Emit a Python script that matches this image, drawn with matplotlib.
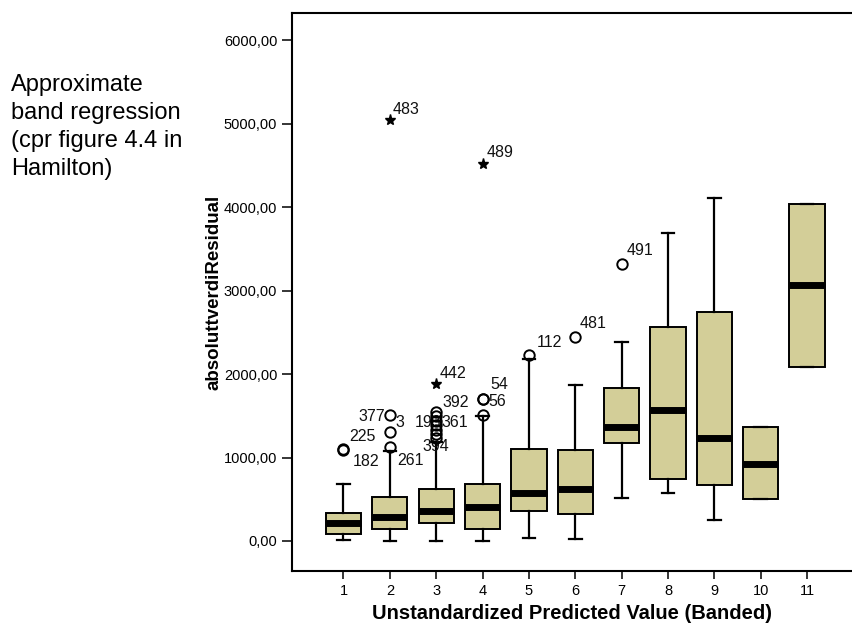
import matplotlib
matplotlib.use("Agg")
from matplotlib import pyplot

pyplot.rcParams['font.family'] = ['Liberation Sans', 'DejaVu Sans']

# box statistics per predicted-value band
bands = [1, 2, 3, 4, 5, 6, 7, 8, 9, 10, 11]
q1 = [80, 148, 212, 140, 364, 320, 1172, 744, 668, 500, 2080]
med = [220, 284, 364, 408, 580, 628, 1364, 1572, 1228, 928, 3064]
q3 = [340, 524, 628, 684, 1100, 1092, 1828, 2564, 2740, 1360, 4044]
whislo = [16, 0, 0, 0, 40, 28, 520, 572, 252, 500, 2080]
whishi = [688, 1080, 1184, 1492, 2180, 1872, 2384, 3692, 4116, 1360, 4044]

# outliers (circles) and extremes (stars)
out_band = [1, 1, 2, 2, 2, 3, 3, 3, 3, 3, 3, 3, 4, 4, 4, 5, 6, 7]
out_val = [1104, 1090, 1128, 1300, 1508, 1232, 1284, 1328, 1384, 1440, 1492, 1544,
           1512, 1700, 1704, 2232, 2448, 3320]
ext_band = [2, 3, 4]
ext_val = [5044, 1884, 4520]

# case labels: band, value of the marker, text, offset right/down in pixels
lab_band = [1, 1, 2, 2, 2, 3, 3, 3, 3, 3, 4, 4, 4, 2, 5, 6, 7]
lab_val = [1104, 1090, 1508, 1300, 1128, 1440, 1440, 1232, 1544, 1884, 1704, 1704,
           4520, 5044, 2232, 2448, 3320]
lab_txt = ['225', '182', '377', '3', '261', '193', '361', '394', '392', '442', '54', '56',
           '489', '483', '112', '481', '491']
lab_dx = [6, 9, -5, 6, 7, -21, 5, -14, 6, 3, 8, 6, 4, 3, 8, 4, 5]
lab_dy = [-12, 12, 1, -10, 14, 2, 2, 8, -10, -10, -14, 3, -11, -11, -12, -13, -13]

yticks = [0, 1000, 2000, 3000, 4000, 5000, 6000]

fig = pyplot.figure(figsize=(8.52, 6.24), dpi=100)
ax = fig.add_axes([0.3427, 0.085, 0.6573, 0.894])

stats = []
for i in range(len(bands)):
    stats.append(dict(med=med[i], q1=q1[i], q3=q3[i], whislo=whislo[i], whishi=whishi[i], fliers=[]))

ax.bxp(stats, positions=bands, widths=0.76, capwidths=0.27, patch_artist=True,
       showfliers=False,
       boxprops=dict(facecolor='#d3ce98', edgecolor='black', linewidth=1.4),
       medianprops=dict(color='black', linewidth=5, solid_capstyle='butt'),
       whiskerprops=dict(color='black', linewidth=1.6),
       capprops=dict(color='black', linewidth=1.6))

ax.plot(out_band, out_val, 'o', markerfacecolor='none', markeredgecolor='black',
        markersize=7.5, markeredgewidth=1.4, zorder=4)
ax.plot(ext_band, ext_val, '*', color='black', markersize=8, zorder=4)

for b, v, t, dx, dy in zip(lab_band, lab_val, lab_txt, lab_dx, lab_dy):
    ha = 'right' if t == '377' else 'left'
    ax.annotate(t, xy=(b, v), xytext=(dx * 0.72, -dy * 0.72), textcoords='offset points',
                ha=ha, va='center', fontsize=11.5, color='#111111')

ax.set_xlim(-0.111, 11.97)
ax.set_ylim(-360, 6327)
ax.set_xticks(bands)
ax.set_xticklabels([str(b) for b in bands])
ax.set_yticks(yticks)
ax.set_yticklabels(['%d,00' % v for v in yticks])
ax.tick_params(axis='y', direction='out', length=7, width=1.1, pad=3.6, labelsize=10.5)
ax.tick_params(axis='x', direction='out', length=6, width=1.1, pad=3.5, labelsize=10.5)

ax.spines['right'].set_visible(False)
for s in ['left', 'bottom', 'top']:
    ax.spines[s].set_linewidth(1.5)

ax.set_xlabel('Unstandardized Predicted Value (Banded)', fontsize=14.5, fontweight='bold', va='center')
ax.xaxis.set_label_coords(0.5, -0.0755)
ax.set_ylabel('absoluttverdiResidual', fontsize=13.5, fontweight='bold', va='center')
ax.yaxis.set_label_coords(-0.139, 0.5)

fig.text(11 / 852, 1 - 74 / 624, 'Approximate\nband regression\n(cpr figure 4.4 in\nHamilton)',
         fontsize=17, va='top', ha='left', linespacing=1.36)

fig.savefig('out.png', dpi=100)
